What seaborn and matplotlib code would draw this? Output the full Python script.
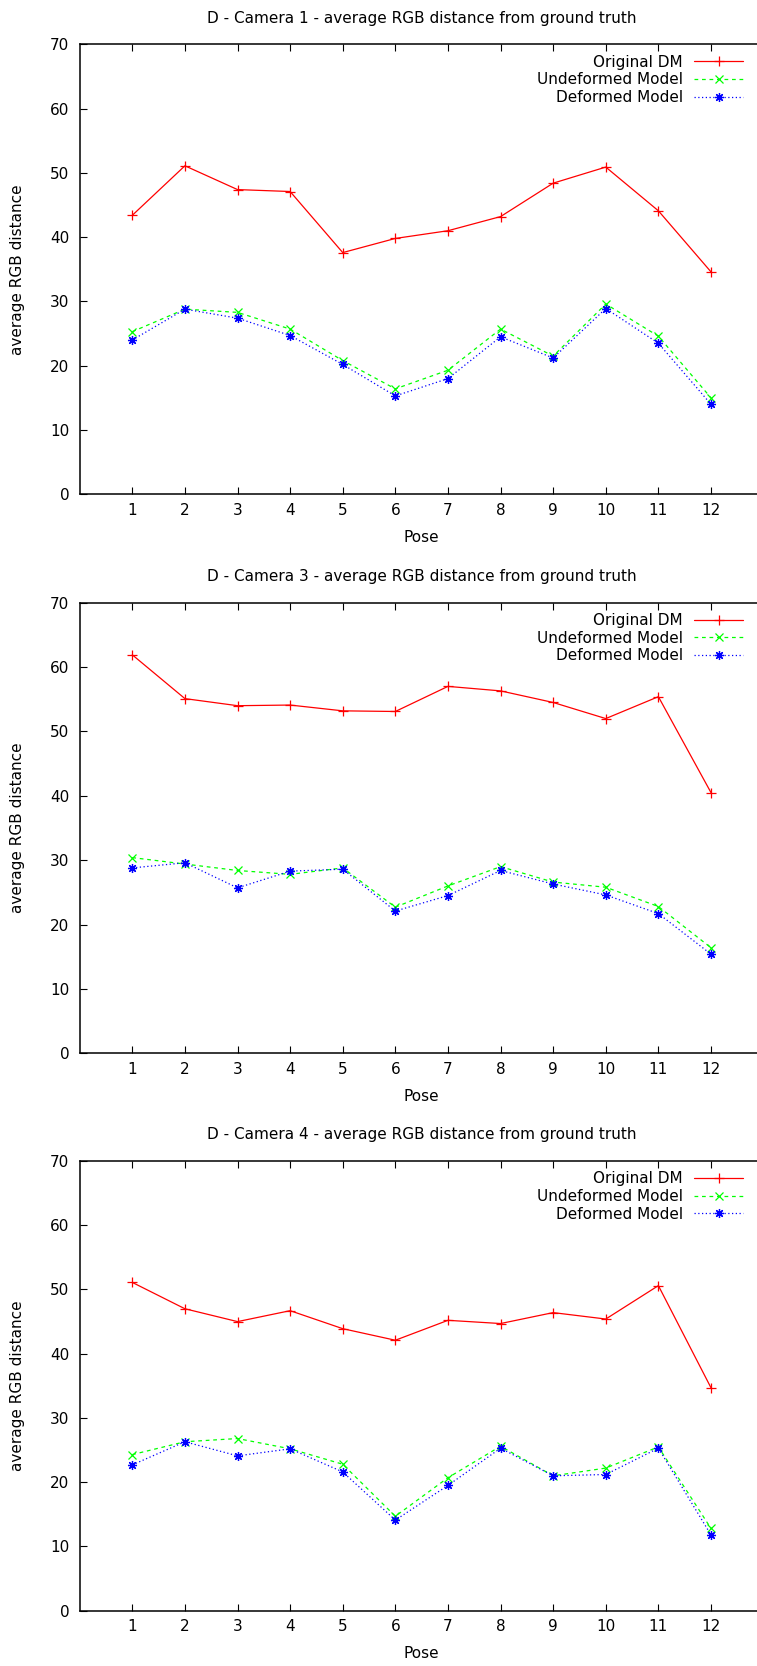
import numpy as np
import pandas as pd
import matplotlib
matplotlib.use("Agg")
import matplotlib.pyplot as plt
import seaborn as sns

# Pose index shared by all three cameras
poses = list(range(1, 13))

series_names = ["Original DM", "Undeformed Model", "Deformed Model"]

# Camera 1
cam1_original = [43.4, 51.1, 47.4, 47.1, 37.6, 39.8, 41.0, 43.2, 48.4, 50.9, 44.1, 34.6]
cam1_undeformed = [25.3, 28.8, 28.3, 25.7, 20.8, 16.4, 19.3, 25.7, 21.5, 29.6, 24.6, 15.0]
cam1_deformed = [24.0, 28.8, 27.4, 24.7, 20.2, 15.3, 18.0, 24.5, 21.2, 28.9, 23.5, 14.0]

# Camera 3
cam3_original = [61.9, 55.1, 54.0, 54.1, 53.2, 53.1, 57.0, 56.3, 54.5, 52.0, 55.4, 40.5]
cam3_undeformed = [30.4, 29.4, 28.4, 27.8, 28.8, 22.7, 26.0, 29.0, 26.6, 25.8, 22.8, 16.4]
cam3_deformed = [28.8, 29.6, 25.7, 28.3, 28.6, 22.1, 24.5, 28.4, 26.3, 24.6, 21.7, 15.4]

# Camera 4
cam4_original = [51.1, 47.0, 45.0, 46.7, 43.9, 42.1, 45.2, 44.7, 46.4, 45.4, 50.6, 34.7]
cam4_undeformed = [24.3, 26.3, 26.8, 25.2, 22.8, 14.7, 20.7, 25.6, 21.0, 22.2, 25.5, 12.8]
cam4_deformed = [22.7, 26.3, 24.1, 25.2, 21.6, 14.1, 19.5, 25.3, 21.0, 21.2, 25.3, 11.8]

titles = [
    "D - Camera 1 - average RGB distance from ground truth",
    "D - Camera 3 - average RGB distance from ground truth",
    "D - Camera 4 - average RGB distance from ground truth",
]
panels = [
    (cam1_original, cam1_undeformed, cam1_deformed),
    (cam3_original, cam3_undeformed, cam3_deformed),
    (cam4_original, cam4_undeformed, cam4_deformed),
]

y_ticks = [0, 10, 20, 30, 40, 50, 60, 70]

sns.set_theme(style="ticks")
plt.rcParams["font.family"] = ["DejaVu Sans"]
plt.rcParams["font.size"] = 11
for key in ["text.color", "axes.labelcolor", "xtick.color", "ytick.color", "axes.edgecolor"]:
    plt.rcParams[key] = "black"

colors = ["#ff0000", "#00ff00", "#0000ff"]
markers = ["+", "x", (8, 2, 0)]
marker_sizes = [7, 5.5, 6.5]
linestyles = ["-", (0, (3, 3)), (0, (1, 2))]

W, H = 757, 1666
fig = plt.figure(figsize=(W / 100, H / 100), dpi=100)

ax_left = 79.7
ax_right = 763.6
# (top, bottom) of each plot box in pixels from the top of the figure
boxes = [(44.3, 494.3), (602.7, 1053.3), (1161.0, 1610.7)]

for (top, bottom), title, values in zip(boxes, titles, panels):
    ax = fig.add_axes([ax_left / W, 1 - bottom / H, (ax_right - ax_left) / W, (bottom - top) / H])
    box_w = ax_right - ax_left
    box_h = bottom - top

    df = pd.DataFrame({
        "Pose": poses * 3,
        "distance": values[0] + values[1] + values[2],
        "model": sum([[n] * len(poses) for n in series_names], []),
    })
    for name, c, m, ms, ls in zip(series_names, colors, markers, marker_sizes, linestyles):
        sub = df[df["model"] == name]
        sns.lineplot(data=sub, x="Pose", y="distance", ax=ax, color=c, marker=m,
                     linestyle=ls, lw=0.9, markersize=ms, mec=c, mew=0.9,
                     label=name, legend=False)

    ax.set_xlim(0, 13)
    ax.set_ylim(0, 70)
    ax.set_xticks(poses)
    ax.set_xticklabels([str(p) for p in poses])
    ax.set_yticks(y_ticks)
    ax.set_yticklabels([str(t) for t in y_ticks])
    ax.tick_params(direction="in", length=5, width=0.8, color="black",
                   labelcolor="black", top=True, right=True, labelsize=11)
    ax.tick_params(axis="y", pad=7.5)
    ax.tick_params(axis="x", pad=6)
    for s in ax.spines.values():
        s.set_linewidth(1.1)
        s.set_color("black")

    ax.set_xlabel("Pose", fontsize=11, color="black")
    ax.xaxis.label.set_va("center")
    ax.xaxis.set_label_coords(0.5, -43.0 / box_h)
    ax.set_ylabel("average RGB distance", fontsize=11, color="black")
    ax.yaxis.label.set_va("center")
    ax.yaxis.set_label_coords(-61.7 / box_w, 0.5)

    ax.set_title(title, fontsize=11, y=1 + 26.0 / box_h, va="center", pad=0, color="black")

    handles, labels = ax.get_legend_handles_labels()
    leg = ax.legend(handles, labels, loc="upper right",
                    bbox_to_anchor=((743 - ax_left) / box_w, 1 - 10.5 / box_h),
                    frameon=False, markerfirst=False, borderpad=0, borderaxespad=0,
                    handlelength=3.2, handletextpad=0.74, labelspacing=0.17,
                    fontsize=11, numpoints=1)
    for t in leg.get_texts():
        t.set_color("black")

fig.savefig("out.png", dpi=100)
